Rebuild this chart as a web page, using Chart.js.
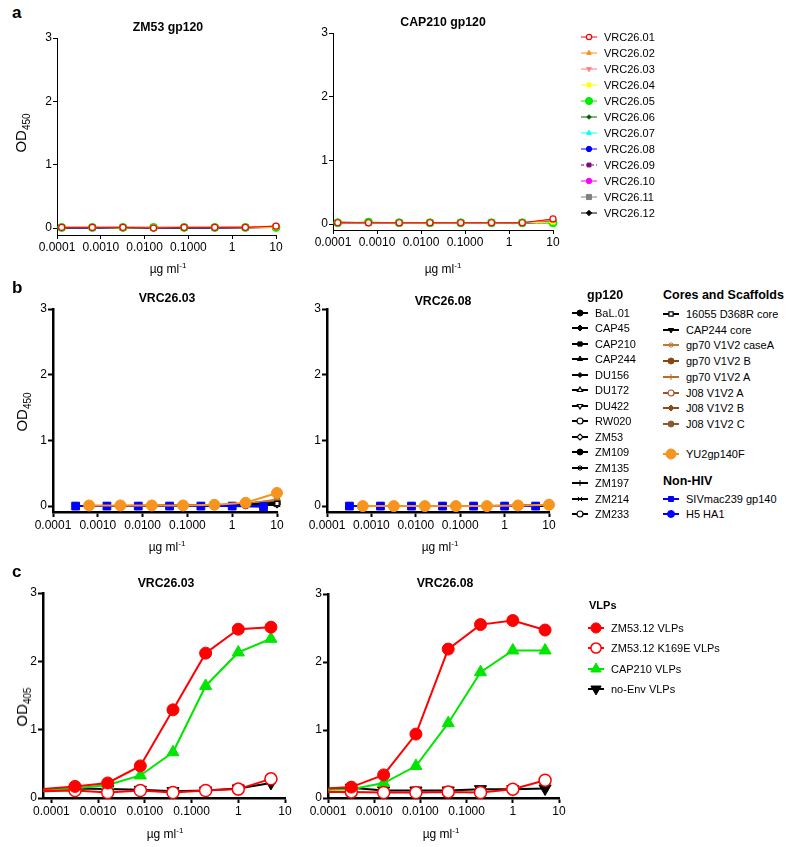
<!DOCTYPE html>
<html>
<head>
<meta charset="utf-8">
<script src="https://cdn.jsdelivr.net/npm/chart.js@4.4.1/dist/chart.umd.min.js"></script>
<style>
body { margin: 0; background: #fff; font-family: "Liberation Sans", Arial, sans-serif; }
#page { position: relative; width: 795px; height: 847px; overflow: hidden; }
.abs { position: absolute; white-space: nowrap; color: #000; }
canvas.plot { position: absolute; }
.ttl { font-weight: bold; font-size: 12.3px; transform: translate(-50%, -50%); }
.letter { font-weight: bold; font-size: 17px; transform: translateY(-50%); }
.ytitle { font-size: 15px; transform: translate(-50%, -50%) rotate(-90deg); }
.ytitle sub { font-size: 10px; }
.xtitle { font-size: 12px; transform: translate(-50%, -50%); }
.xtitle sup { font-size: 8px; }
.leg { font-size: 11px; display: flex; align-items: center; transform: translateY(-50%); }
.leg canvas { margin-right: 7px; }
.lh { font-weight: bold; font-size: 12.5px; transform: translateY(-50%); }
</style>
</head>
<body>
<div id="page"></div>
<script>
// concentrations (µg/ml)
const dilA = [0.000128, 0.00064, 0.0032, 0.016, 0.08, 0.4, 2, 10];
const dilB = [0.00064, 0.0032, 0.016, 0.08, 0.4, 2, 10];
const dilBHalf = [0.00032, 0.0016, 0.008, 0.04, 0.2, 1, 5];
const dilC = [0.000064, 0.00032, 0.0016, 0.008, 0.04, 0.2, 1, 5];

// axis ticks
const xTicks = [0.0001, 0.001, 0.01, 0.1, 1, 10];
const xTickLabels = ['0.0001', '0.0010', '0.0100', '0.1000', '1', '10'];
const yTicks = [0, 1, 2, 3];

// panel a: antibodies vs gp120
const vrcNames = ['VRC26.01', 'VRC26.02', 'VRC26.03', 'VRC26.04', 'VRC26.05', 'VRC26.06',
    'VRC26.07', 'VRC26.08', 'VRC26.09', 'VRC26.10', 'VRC26.11', 'VRC26.12'];
const zm53Values = [
    [0.01, 0.01, 0.01, 0.00, 0.01, 0.01, 0.01, 0.03],
    [0.01, 0.01, 0.01, 0.01, 0.01, 0.01, 0.01, 0.02],
    [0.01, 0.01, 0.01, 0.01, 0.01, 0.01, 0.02, 0.03],
    [0.01, 0.01, 0.00, 0.01, 0.01, 0.01, 0.01, 0.01],
    [0.01, 0.01, 0.01, 0.01, 0.01, 0.01, 0.01, 0.01],
    [0.00, 0.01, 0.00, 0.01, 0.00, 0.01, 0.01, 0.01],
    [0.01, 0.01, 0.01, 0.01, 0.01, 0.01, 0.01, 0.01],
    [0.00, 0.00, 0.00, 0.00, 0.00, 0.00, 0.01, 0.02],
    [0.01, 0.01, 0.01, 0.01, 0.01, 0.01, 0.01, 0.01],
    [0.01, 0.01, 0.01, 0.01, 0.01, 0.01, 0.01, 0.03],
    [0.01, 0.01, 0.01, 0.01, 0.01, 0.01, 0.01, 0.02],
    [0.00, 0.00, 0.00, 0.00, 0.00, 0.00, 0.00, 0.01]
];
const cap210Values = [
    [0.02, 0.02, 0.02, 0.02, 0.02, 0.02, 0.02, 0.08],
    [0.03, 0.02, 0.02, 0.02, 0.02, 0.02, 0.02, 0.06],
    [0.02, 0.02, 0.02, 0.02, 0.02, 0.02, 0.02, 0.07],
    [0.02, 0.02, 0.02, 0.02, 0.02, 0.02, 0.02, 0.03],
    [0.02, 0.03, 0.02, 0.02, 0.02, 0.02, 0.02, 0.02],
    [0.02, 0.02, 0.02, 0.02, 0.02, 0.02, 0.02, 0.03],
    [0.02, 0.02, 0.02, 0.02, 0.02, 0.02, 0.02, 0.03],
    [0.03, 0.02, 0.02, 0.02, 0.02, 0.02, 0.01, 0.04],
    [0.02, 0.02, 0.02, 0.02, 0.02, 0.02, 0.02, 0.02],
    [0.02, 0.02, 0.02, 0.02, 0.02, 0.02, 0.02, 0.05],
    [0.02, 0.02, 0.02, 0.02, 0.02, 0.02, 0.02, 0.03],
    [0.02, 0.02, 0.02, 0.02, 0.02, 0.02, 0.02, 0.02]
];

// panel b: VRC26.03 / VRC26.08 vs antigen panel
const gp120Names = ['BaL.01', 'CAP45', 'CAP210', 'CAP244', 'DU156', 'DU172', 'DU422',
    'RW020', 'ZM53', 'ZM109', 'ZM135', 'ZM197', 'ZM214', 'ZM233'];
const coreNames = ['16055 D368R core', 'CAP244 core', 'gp70 V1V2 caseA', 'gp70 V1V2 B',
    'gp70 V1V2 A', 'J08 V1V2 A', 'J08 V1V2 B', 'J08 V1V2 C'];
const yu2Names = ['YU2gp140F'];
const nonHivNames = ['SIVmac239 gp140', 'H5 HA1'];

const gp120Vrc03 = [
    [0.00, 0.00, 0.00, 0.00, 0.01, 0.01, 0.04],
    [0.00, 0.00, 0.00, 0.00, 0.00, 0.01, 0.03],
    [0.00, 0.00, 0.00, 0.01, 0.01, 0.02, 0.05],
    [0.00, 0.00, 0.00, 0.00, 0.00, 0.01, 0.03],
    [0.00, 0.00, 0.00, 0.00, 0.01, 0.01, 0.04],
    [0.00, 0.00, 0.00, 0.00, 0.00, 0.01, 0.02],
    [0.00, 0.00, 0.00, 0.00, 0.00, 0.01, 0.03],
    [0.00, 0.00, 0.00, 0.00, 0.01, 0.02, 0.06],
    [0.00, 0.00, 0.00, 0.00, 0.00, 0.01, 0.02],
    [0.00, 0.00, 0.00, 0.00, 0.00, 0.01, 0.03],
    [0.00, 0.00, 0.00, 0.00, 0.00, 0.01, 0.04],
    [0.00, 0.00, 0.00, 0.00, 0.00, 0.01, 0.02],
    [0.00, 0.00, 0.00, 0.00, 0.01, 0.01, 0.03],
    [0.00, 0.00, 0.00, 0.00, 0.00, 0.01, 0.05]
];
const coreVrc03 = [
    [0.00, 0.00, 0.00, 0.00, 0.01, 0.02, 0.04],
    [0.00, 0.00, 0.00, 0.00, 0.01, 0.02, 0.05],
    [0.00, 0.00, 0.01, 0.01, 0.01, 0.03, 0.10],
    [0.00, 0.00, 0.00, 0.01, 0.01, 0.04, 0.08],
    [0.00, 0.00, 0.00, 0.00, 0.01, 0.02, 0.06],
    [0.00, 0.00, 0.00, 0.00, 0.01, 0.02, 0.05],
    [0.00, 0.00, 0.00, 0.01, 0.01, 0.03, 0.07],
    [0.00, 0.00, 0.01, 0.01, 0.01, 0.03, 0.09]
];
const yu2Vrc03 = [[0.01, 0.01, 0.01, 0.01, 0.02, 0.05, 0.20]];
const nonHivVrc03 = [
    [0.00, 0.00, 0.00, 0.00, 0.00, 0.00, -0.01],
    [0.00, 0.00, 0.00, 0.00, 0.00, 0.00, 0.00]
];

const gp120Vrc08 = [
    [0.00, 0.00, 0.00, 0.00, 0.00, 0.00, 0.01],
    [0.00, 0.00, 0.00, 0.00, 0.00, 0.00, 0.01],
    [0.00, 0.00, 0.00, 0.00, 0.00, 0.00, 0.01],
    [0.00, 0.00, 0.00, 0.00, 0.00, 0.00, 0.00],
    [0.00, 0.00, 0.00, 0.00, 0.00, 0.00, 0.01],
    [0.00, 0.00, 0.00, 0.00, 0.00, 0.00, 0.00],
    [0.00, 0.00, 0.00, 0.00, 0.00, 0.00, 0.01],
    [0.00, 0.00, 0.00, 0.00, 0.00, 0.00, 0.01],
    [0.00, 0.00, 0.00, 0.00, 0.00, 0.00, 0.00],
    [0.00, 0.00, 0.00, 0.00, 0.00, 0.00, 0.01],
    [0.00, 0.00, 0.00, 0.00, 0.00, 0.00, 0.00],
    [0.00, 0.00, 0.00, 0.00, 0.00, 0.00, 0.01],
    [0.00, 0.00, 0.00, 0.00, 0.00, 0.00, 0.00],
    [0.00, 0.00, 0.00, 0.00, 0.00, 0.00, 0.01]
];
const coreVrc08 = [
    [0.00, 0.00, 0.00, 0.00, 0.00, 0.00, 0.01],
    [0.00, 0.00, 0.00, 0.00, 0.00, 0.00, 0.01],
    [0.00, 0.00, 0.00, 0.00, 0.00, 0.01, 0.01],
    [0.00, 0.00, 0.00, 0.00, 0.00, 0.00, 0.01],
    [0.00, 0.00, 0.00, 0.00, 0.00, 0.00, 0.01],
    [0.00, 0.00, 0.00, 0.00, 0.00, 0.00, 0.01],
    [0.00, 0.00, 0.00, 0.00, 0.00, 0.00, 0.01],
    [0.00, 0.00, 0.00, 0.00, 0.00, 0.01, 0.01]
];
const yu2Vrc08 = [[0.00, 0.00, 0.00, 0.00, 0.00, 0.01, 0.02]];
const nonHivVrc08 = [
    [0.00, 0.00, 0.00, 0.00, 0.00, 0.00, 0.00],
    [0.00, 0.00, 0.00, 0.00, 0.00, 0.00, 0.00]
];

// panel c: VLP ELISA
const vlpNames = ['ZM53.12 VLPs', 'ZM53.12 K169E VLPs', 'CAP210 VLPs', 'no-Env VLPs'];
const vlpVrc03 = [
    [0.13, 0.17, 0.22, 0.47, 1.29, 2.12, 2.47, 2.50],
    [0.10, 0.11, 0.08, 0.11, 0.08, 0.11, 0.13, 0.28],
    [0.12, 0.14, 0.19, 0.33, 0.67, 1.64, 2.13, 2.33],
    [0.12, 0.14, 0.13, 0.12, 0.10, 0.11, 0.14, 0.22]
];
const vlpVrc08 = [
    [0.13, 0.16, 0.34, 0.94, 2.19, 2.55, 2.61, 2.47],
    [0.09, 0.09, 0.08, 0.08, 0.09, 0.08, 0.13, 0.26],
    [0.12, 0.13, 0.22, 0.47, 1.10, 1.85, 2.17, 2.17],
    [0.13, 0.15, 0.11, 0.11, 0.11, 0.13, 0.13, 0.14]
];

// ---- styles ----
const vrcStyles = [
    { color: '#ff0000', point: 'circle', open: true },
    { color: '#ff8c1a', point: 'triangle' },
    { color: '#ff7f7f', point: 'triangle', rot: 180 },
    { color: '#ffff00', point: 'rect' },
    { color: '#00ee00', point: 'circle', r: 4 },
    { color: '#006400', point: 'rectRot', r: 2.5 },
    { color: '#00ffff', point: 'triangle' },
    { color: '#0000ff', point: 'circle' },
    { color: '#800080', point: 'rect', dash: [3, 2] },
    { color: '#ff00ff', point: 'circle' },
    { color: '#808080', point: 'rect', r: 4 },
    { color: '#000000', point: 'rectRot' }
];
const gp120Styles = [
    { point: 'circle' }, { point: 'rectRot' }, { point: 'rect' }, { point: 'triangle' },
    { point: 'rectRot', r: 2.5 }, { point: 'triangle', open: true }, { point: 'triangle', rot: 180, open: true },
    { point: 'circle', open: true }, { point: 'rectRot', open: true }, { point: 'circle' },
    { point: 'star' }, { point: 'cross' }, { point: 'crossRot' }, { point: 'circle', open: true }
].map(s => Object.assign({ color: '#000000' }, s));
const coreStyles = [
    { color: '#000000', point: 'rect', open: true },
    { color: '#000000', point: 'triangle', rot: 180 },
    { color: '#c07a38', point: 'star' },
    { color: '#8b4513', point: 'circle' },
    { color: '#b86e2a', point: 'cross' },
    { color: '#a0522d', point: 'circle', open: true },
    { color: '#8b4a1a', point: 'rectRot' },
    { color: '#8b5a2b', point: 'circle' }
];
const yu2Styles = [{ color: '#f7941d', point: 'circle' }];
const nonHivStyles = [
    { color: '#0000ff', point: 'rect', r: 5.5 },
    { color: '#0000ff', point: 'circle', r: 3.5 }
];
const vlpStyles = [
    { color: '#ff0000', point: 'circle' },
    { color: '#ff0000', point: 'circle', open: true },
    { color: '#00e600', point: 'triangle' },
    { color: '#000000', point: 'triangle', rot: 180 }
];

const FONT = '"Liberation Sans", Arial, sans-serif';
const page = document.getElementById('page');

function toDataset(xs, ys, st, look) {
    const r = (st.r || look.r) * (look.scale || 1);
    return {
        data: xs.map((x, i) => ({ x: x, y: ys[i] })),
        borderColor: st.color,
        borderWidth: look.lw,
        borderDash: st.dash || [],
        pointStyle: st.point,
        pointRotation: st.rot || 0,
        // no marker for points left of the axis (only the line runs in from there)
        pointRadius: c => (c.raw && c.raw.x < c.chart.scales.x.min) ? 0 : r,
        pointBackgroundColor: st.open ? '#ffffff' : st.color,
        pointBorderColor: st.color,
        pointBorderWidth: st.open ? look.ob : 1,
        tension: 0,
        clip: { left: 0, top: false, right: false, bottom: false }
    };
}

function makeChart(box, datasets, axis) {
    const padL = 45, padT = 10, padR = 16, padB = 28;
    const canvas = document.createElement('canvas');
    canvas.className = 'plot';
    canvas.width = box.r - box.l + padL + padR;
    canvas.height = box.b - box.t + padT + padB;
    canvas.style.left = (box.l - padL) + 'px';
    canvas.style.top = (box.t - padT) + 'px';
    page.appendChild(canvas);

    const gridOpts = {
        drawOnChartArea: false, drawTicks: true, tickLength: axis.tick,
        tickWidth: axis.width > 1 ? 2 : 1, color: '#000'
    };
    const tickFont = { family: FONT, size: 12 };

    new Chart(canvas, {
        type: 'line',
        data: { datasets: datasets },
        options: {
            responsive: false,
            animation: false,
            events: [],
            layout: { padding: { left: 0, top: padT, right: padR, bottom: 0 } },
            plugins: { legend: { display: false }, tooltip: { enabled: false } },
            scales: {
                x: {
                    type: 'logarithmic',
                    min: box.xMin,
                    max: 10,
                    afterFit: s => { s.height = padB; },
                    afterBuildTicks: s => { s.ticks = xTicks.map(v => ({ value: v })); },
                    ticks: {
                        callback: (v, i) => xTickLabels[i],
                        font: tickFont, color: '#000', padding: 1,
                        maxRotation: 0, autoSkip: false
                    },
                    grid: gridOpts,
                    border: { display: true, color: '#000', width: axis.width }
                },
                y: {
                    type: 'linear',
                    min: box.yMin,
                    max: 3,
                    afterFit: s => { s.width = padL; },
                    afterBuildTicks: s => { s.ticks = yTicks.map(v => ({ value: v })); },
                    ticks: { font: tickFont, color: '#000', padding: 1 },
                    grid: gridOpts,
                    border: { display: true, color: '#000', width: axis.width }
                }
            }
        }
    });
}

// ---- text helpers ----
function addText(cls, x, y, html) {
    const d = document.createElement('div');
    d.className = 'abs ' + cls;
    d.style.left = x + 'px';
    d.style.top = y + 'px';
    d.innerHTML = html;
    page.appendChild(d);
    return d;
}

function legendItem(x, y, name, st, look) {
    const d = addText('leg', x, y, '');
    const c = document.createElement('canvas');
    c.width = 16; c.height = 14;
    const ctx = c.getContext('2d');
    ctx.strokeStyle = st.color;
    ctx.lineWidth = look.lw;
    ctx.setLineDash(st.dash || []);
    ctx.beginPath(); ctx.moveTo(0, 7); ctx.lineTo(16, 7); ctx.stroke();
    ctx.setLineDash([]);
    ctx.fillStyle = st.open ? '#fff' : st.color;
    ctx.strokeStyle = st.color;
    ctx.lineWidth = st.open ? look.ob : 1;
    Chart.helpers.drawPoint(ctx, {
        pointStyle: st.point, rotation: st.rot || 0,
        radius: (look.fixedR || st.r || look.r) * (look.legScale || 1), borderWidth: st.open ? look.ob : 1
    }, 8, 7);
    d.appendChild(c);
    const t = document.createElement('span');
    t.textContent = name;
    d.appendChild(t);
}

const xTitle = 'µg ml<sup>-1</sup>';

// ---- panel a ----
const lookA = { lw: 1, r: 3, ob: 1.2, legScale: 0.9 };
const boxA1 = { l: 57, r: 276, t: 38, b: 235, xMin: 0.0001, yMin: -0.11 };
const boxA2 = { l: 333, r: 553, t: 33, b: 230, xMin: 0.0001, yMin: -0.094 };
makeChart(boxA1, vrcNames.map((n, i) => toDataset(dilA, zm53Values[i], vrcStyles[i], lookA)), { width: 1, tick: 4 });
makeChart(boxA2, vrcNames.map((n, i) => toDataset(dilA, cap210Values[i], vrcStyles[i], lookA)), { width: 1, tick: 4 });
addText('letter', 12, 13, 'a');
addText('ttl', 168, 27, 'ZM53 gp120');
addText('ttl', 443, 22, 'CAP210 gp120');
addText('ytitle', 22, 133, 'OD<sub>450</sub>');
addText('xtitle', 168, 268, xTitle);
addText('xtitle', 443, 268, xTitle);
vrcNames.forEach((n, i) => legendItem(581, 37 + i * 16, n, vrcStyles[i], lookA));

// ---- panel b ----
const lookB = { lw: 2, r: 3, ob: 1.2 };
const lookBig = { lw: 2, r: 5.5, ob: 1.5 };
function panelBSets(yu2, nonHiv, core, gp120) {
    return [].concat(
        yu2.map((v, i) => toDataset(dilB, v, yu2Styles[i], lookBig)),
        nonHiv.map((v, i) => toDataset(dilBHalf, v, nonHivStyles[i], lookB)),
        core.map((v, i) => toDataset(dilB, v, coreStyles[i], lookB)),
        gp120.map((v, i) => toDataset(dilB, v, gp120Styles[i], lookB))
    );
}
const boxB1 = { l: 53, r: 277, t: 309, b: 512, xMin: 0.0001, yMin: -0.09 };
const boxB2 = { l: 327, r: 549, t: 309, b: 512, xMin: 0.0001, yMin: -0.09 };
makeChart(boxB1, panelBSets(yu2Vrc03, nonHivVrc03, coreVrc03, gp120Vrc03), { width: 2.5, tick: 5 });
makeChart(boxB2, panelBSets(yu2Vrc08, nonHivVrc08, coreVrc08, gp120Vrc08), { width: 2.5, tick: 5 });
addText('letter', 12, 288, 'b');
addText('ttl', 167, 298, 'VRC26.03');
addText('ttl', 443, 301, 'VRC26.08');
addText('ytitle', 23, 412, 'OD<sub>450</sub>');
addText('xtitle', 167, 546, xTitle);
addText('xtitle', 440, 546, xTitle);

const lookBLeg = { lw: 2, r: 3, ob: 1.2 };
addText('lh', 587, 295, 'gp120');
gp120Names.forEach((n, i) => legendItem(572, 313 + i * 15.46, n, gp120Styles[i], lookBLeg));
addText('lh', 663, 295, 'Cores and Scaffolds');
coreNames.forEach((n, i) => legendItem(663, 314 + i * 15.7, n, coreStyles[i], lookBLeg));
yu2Names.forEach((n, i) => legendItem(663, 454, n, yu2Styles[i], { lw: 2, r: 5, ob: 1.5 }));
addText('lh', 663, 481, 'Non-HIV');
nonHivNames.forEach((n, i) => legendItem(663, 499 + i * 15, n, nonHivStyles[i], { lw: 2, fixedR: 3.5, ob: 1.2 }));

// ---- panel c ----
const lookC = { lw: 2, r: 6, ob: 1.5, legScale: 0.85 };
const vlpLooks = vlpStyles.map(s => s.point === 'triangle' ? Object.assign({}, lookC, { r: 7 }) : lookC);
const boxC1 = { l: 43, r: 285, t: 593, b: 798, xMin: Math.pow(10, -4.18), yMin: 0 };
const boxC2 = { l: 328, r: 559, t: 594, b: 798, xMin: 0.0001, yMin: 0 };
makeChart(boxC1, vlpNames.map((n, i) => toDataset(dilC, vlpVrc03[i], vlpStyles[i], vlpLooks[i])), { width: 2.5, tick: 5 });
makeChart(boxC2, vlpNames.map((n, i) => toDataset(dilC, vlpVrc08[i], vlpStyles[i], vlpLooks[i])), { width: 2.5, tick: 5 });
addText('letter', 12, 572, 'c');
addText('ttl', 166, 583, 'VRC26.03');
addText('ttl', 445, 583, 'VRC26.08');
addText('ytitle', 23, 707, 'OD<sub>405</sub>');
addText('xtitle', 165, 833, xTitle);
addText('xtitle', 441, 833, xTitle);
addText('lh', 589, 605, 'VLPs').style.fontSize = '11px';
vlpNames.forEach((n, i) => legendItem(588, 628 + i * 20.3, n, vlpStyles[i], vlpLooks[i]));
</script>
</body>
</html>
